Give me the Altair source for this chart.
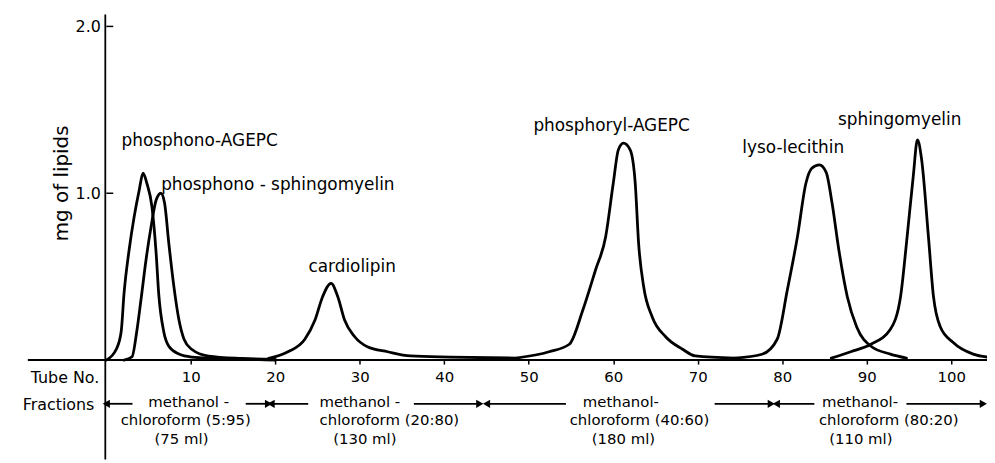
import altair as alt
import pandas as pd

FONT = "DejaVu Sans"

# ---- curve data (tube number, mg of lipids) ----
agepc_tube = [0.0, 1.18, 1.76, 2.1, 2.7, 3.3, 3.9, 4.35, 4.8, 5.4, 5.9, 6.2, 6.8, 7.4, 8.6, 10.1, 13.0, 17.0, 20.0]
agepc_mg = [0.0, 0.065, 0.17, 0.40, 0.66, 0.86, 1.02, 1.12, 1.06, 0.92, 0.64, 0.40, 0.17, 0.083, 0.036, 0.018, 0.01, 0.005, 0.0]

psm_tube = [2.1, 3.05, 3.6, 4.1, 4.7, 5.3, 5.9, 6.46, 6.9, 7.4, 8.0, 8.6, 9.2, 10.1, 12.1, 16.0, 20.0]
psm_mg = [0.0, 0.02, 0.17, 0.36, 0.60, 0.80, 0.96, 1.00, 0.94, 0.70, 0.44, 0.24, 0.125, 0.065, 0.024, 0.01, 0.005]

cardio_tube = [19.2, 21.5, 23.5, 24.7, 25.6, 26.6, 27.4, 28.2, 29.4, 30.9, 33.3, 36.0, 40.7, 48.5]
cardio_mg = [0.01, 0.05, 0.125, 0.24, 0.38, 0.46, 0.38, 0.24, 0.14, 0.08, 0.05, 0.025, 0.018, 0.012]

phagepc_tube = [48.5, 52.4, 54.8, 56.4, 57.9, 59.1, 60.0, 60.6, 61.2, 62.0, 62.6, 63.0, 63.6, 64.6, 66.2, 68.2, 69.7, 74.4]
phagepc_mg = [0.012, 0.05, 0.095, 0.30, 0.54, 0.74, 1.06, 1.26, 1.30, 1.26, 1.06, 0.70, 0.44, 0.26, 0.14, 0.065, 0.025, 0.012]

lyso_tube = [74.4, 77.6, 79.4, 80.6, 81.8, 82.8, 83.5, 84.4, 85.2, 85.9, 86.7, 87.7, 88.8, 90.5, 92.8, 94.7]
lyso_mg = [0.012, 0.035, 0.125, 0.42, 0.74, 1.06, 1.15, 1.17, 1.125, 0.94, 0.66, 0.38, 0.20, 0.083, 0.036, 0.012]

sm_tube = [85.8, 88.1, 90.5, 92.8, 94.0, 94.7, 95.5, 96.0, 96.5, 97.3, 97.9, 98.7, 100.2, 102.6, 104.3]
sm_mg = [0.012, 0.05, 0.095, 0.185, 0.38, 0.70, 1.10, 1.32, 1.20, 0.74, 0.38, 0.20, 0.107, 0.036, 0.018]

# ---- peak labels ----
label_text = ["phosphono-AGEPC", "phosphono - sphingomyelin", "cardiolipin",
              "phosphoryl-AGEPC", "lyso-lecithin", "sphingomyelin"]
label_tube = [11.05, 20.3, 29.1, 59.8, 81.3, 93.9]
label_mg = [1.315, 1.048, 0.56, 1.40, 1.27, 1.44]

# ---- axis ticks ----
x_ticks = [10, 20, 30, 40, 50, 60, 70, 80, 90, 100]
y_ticks = [1.0, 2.0]

# ---- fraction annotations ----
frac_line1 = ["methanol -", "methanol -", "methanol-", "methanol-"]
frac_line1_tube = [9.75, 30.0, 60.9, 89.2]
frac_line2 = ["chloroform (5:95)", "chloroform (20:80)", "chloroform (40:60)", "chloroform (80:20)"]
frac_line2_tube = [9.4, 33.5, 63.1, 92.6]
frac_line3 = ["(75 ml)", "(130 ml)", "(180 ml)", "(110 ml)"]
frac_line3_tube = [8.9, 30.6, 61.2, 89.3]

arrow_start = [0.0, 16.5, 19.5, 36.4, 45.0, 72.0, 79.3, 94.7]
arrow_end = [3.1, 19.2, 23.9, 44.2, 54.4, 78.7, 83.8, 103.8]
arrow_dir = ["left", "right", "left", "right", "left", "right", "left", "right"]

series = [
    ("phosphono-AGEPC", agepc_tube, agepc_mg),
    ("phosphono-sphingomyelin", psm_tube, psm_mg),
    ("cardiolipin", cardio_tube, cardio_mg),
    ("phosphoryl-AGEPC", phagepc_tube, phagepc_mg),
    ("lyso-lecithin", lyso_tube, lyso_mg),
    ("sphingomyelin", sm_tube, sm_mg),
]
rows = []
for name, ts, vs in series:
    for t, v in zip(ts, vs):
        rows.append({"series": name, "tube": t, "mg": v})
curves = pd.DataFrame(rows)

W = 884
H = 348
XMAX = 103.88
YMAX = 2.071

xscale = alt.Scale(domain=[0, XMAX], nice=False, zero=False)
yscale = alt.Scale(domain=[0, YMAX], nice=False, zero=False)

lines = alt.Chart(curves).mark_line(
    color="black", strokeWidth=2.8, interpolate="monotone", strokeJoin="round", strokeCap="round"
).encode(
    x=alt.X("tube:Q", scale=xscale, axis=alt.Axis(
        values=x_ticks, title="", domain=False, grid=False, tickColor="black",
        tickSize=4, tickWidth=1.5, labelFont=FONT, labelFontSize=15,
        labelColor="black", labelPadding=6)),
    y=alt.Y("mg:Q", scale=yscale, axis=alt.Axis(
        values=y_ticks, format=".1f", title="", domain=False, grid=False,
        ticks=False, labelFont=FONT, labelFontSize=16, labelColor="black",
        labelPadding=6)),
    detail="series:N",
)

labels_df = pd.DataFrame({"text": label_text, "tube": label_tube, "mg": label_mg})
labels = alt.Chart(labels_df).mark_text(
    font=FONT, fontSize=17, color="black", align="center", baseline="middle"
).encode(x=alt.X("tube:Q", scale=xscale), y=alt.Y("mg:Q", scale=yscale), text="text:N")

# axis frame lines
base_rule = alt.Chart(pd.DataFrame({"k": [0]})).mark_rule(color="black", strokeWidth=2).encode(
    x=alt.value(-79), x2=alt.value(W + 3), y=alt.value(H))
vert_rule = alt.Chart(pd.DataFrame({"k": [0]})).mark_rule(color="black", strokeWidth=1.8).encode(
    x=alt.value(-1), y=alt.value(0), y2=alt.value(H + 100))

ytick_df = pd.DataFrame({"mg": y_ticks})
ytick_rules = alt.Chart(ytick_df).mark_rule(color="black", strokeWidth=1.5).encode(
    x=alt.value(0), x2=alt.value(7), y=alt.Y("mg:Q", scale=yscale))

# y title
ytitle = alt.Chart(pd.DataFrame({"t": ["mg of lipids"]})).mark_text(
    font=FONT, fontSize=20, color="black", angle=270, align="center", baseline="middle"
).encode(x=alt.value(-45), y=alt.value(170), text="t:N")

side_df = pd.DataFrame({"t": ["Tube No.", "Fractions"], "px": [-7, -12], "py": [366, 393]})
side = alt.Chart(side_df).mark_text(
    font=FONT, fontSize=16, color="black", align="right", baseline="middle"
).encode(x=alt.X("px:Q", scale=None), y=alt.Y("py:Q", scale=None), text="t:N")

f1 = alt.Chart(pd.DataFrame({"t": frac_line1, "tube": frac_line1_tube})).mark_text(
    font=FONT, fontSize=15, color="black", align="center", baseline="middle"
).encode(x=alt.X("tube:Q", scale=xscale), y=alt.value(390), text="t:N")
f2 = alt.Chart(pd.DataFrame({"t": frac_line2, "tube": frac_line2_tube})).mark_text(
    font=FONT, fontSize=15, color="black", align="center", baseline="middle"
).encode(x=alt.X("tube:Q", scale=xscale), y=alt.value(408), text="t:N")
f3 = alt.Chart(pd.DataFrame({"t": frac_line3, "tube": frac_line3_tube})).mark_text(
    font=FONT, fontSize=15, color="black", align="center", baseline="middle"
).encode(x=alt.X("tube:Q", scale=xscale), y=alt.value(428), text="t:N")

arrows_df = pd.DataFrame({"s": arrow_start, "e": arrow_end, "dir": arrow_dir})
arrows_df["tip"] = [s if d == "left" else e for s, e, d in zip(arrow_start, arrow_end, arrow_dir)]
arrows_df["shape"] = ["triangle-left" if d == "left" else "triangle-right" for d in arrow_dir]
arrow_lines = alt.Chart(arrows_df).mark_rule(color="black", strokeWidth=1.8).encode(
    x=alt.X("s:Q", scale=xscale), x2="e:Q", y=alt.value(392))
arrow_heads = alt.Chart(arrows_df).mark_point(filled=True, color="black", size=70, opacity=1).encode(
    x=alt.X("tip:Q", scale=xscale), y=alt.value(392),
    shape=alt.Shape("shape:N", scale=None))

chart = alt.layer(
    base_rule, vert_rule, ytick_rules, lines, labels, ytitle, side, f1, f2, f3, arrow_lines, arrow_heads
).properties(
    width=W, height=H,
    autosize=alt.AutoSizeParams(type="none"),
    padding={"left": 99, "top": 5, "right": 3, "bottom": 100},
    background="white",
).configure_view(stroke=None)

chart.save("out.html", embed_options={"renderer": "svg", "actions": False})
